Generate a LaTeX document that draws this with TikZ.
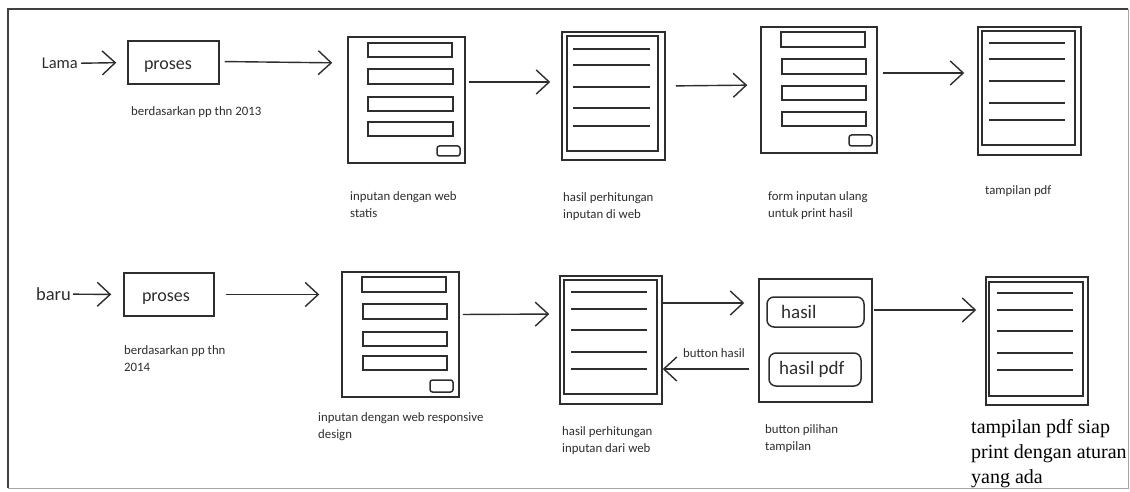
\documentclass[tikz,border=0pt]{standalone}
\usepackage{fontspec}
\setmainfont{Carlito}
\newfontfamily\seriffont{Liberation Serif}
\usetikzlibrary{arrows.meta}
\definecolor{ink}{HTML}{2E2E2E}
\tikzset{
  arr/.style={draw=ink, line width=1.4pt, -{Straight Barb[length=13pt,width=24pt,line width=1.4pt]}},
  boxshape/.style={draw=ink, line width=1.5pt, inner sep=0pt},
  fld/.style={draw=ink, line width=1.5pt},
  btn/.style={draw=ink, line width=1.5pt, rounded corners=2.5pt},
  pline/.style={draw=ink, line width=1.5pt},
  captxt/.style={font=\fontsize{12.8}{17}\selectfont, text=ink, anchor=west, align=left, inner sep=0pt},
  bigtxt/.style={font=\fontsize{18}{20}\selectfont, text=ink, inner sep=0pt},
}
\begin{document}
\begin{tikzpicture}[x=1pt,y=-1pt]
\useasboundingbox (0,0) rectangle (1130,492);
\fill[white] (0,0) rectangle (1130,492);
% frame
\draw[black!35, line width=1pt] (1128,9) -- (1128,488) -- (8,488);
\draw[black!75, line width=1.6pt] (8,488) -- (8,9) -- (1128,9);

% ===== top row =====
\node[bigtxt, font=\fontsize{16.5}{20}\selectfont, anchor=base east] (lama) at (78,68.5) {Lama};
\node[boxshape, minimum width=91pt, minimum height=43pt] (p1) at (173.5,62.5) {};
\node[bigtxt, anchor=base] (p1t) at (168,69.5) {proses};
\draw[arr, shorten >=11pt, shorten <=3pt] (lama.east) -- (p1.west);
\node[captxt] (c1) at (131,112) {berdasarkan pp thn 2013};

% form 1
\node[boxshape, minimum width=117pt, minimum height=126pt] (f1) at (406.5,100) {};
\draw[fld] (368,43) rectangle (452,57);
\draw[fld] (368,69) rectangle (453,84);
\draw[fld] (368,97) rectangle (453,111);
\draw[fld] (368,122) rectangle (453,136);
\draw[btn] (437,146) rectangle (460,156);
\node[captxt] (c2) at (350,205) {inputan dengan web\\statis};
\draw[arr, shorten <=5pt, shorten >=15pt] ([yshift=1pt]p1.east) -- ([yshift=37pt]f1.west);

% doc 1
\node[boxshape, minimum width=103pt, minimum height=128pt] (d1) at (613.5,96) {};
\draw[pline] (567,36) rectangle (658,151);
\foreach \y in {49,65,87,108,126} \draw[pline] (573,\y) -- (650,\y);
\node[captxt] (c3) at (563,207) {hasil perhitungan\\inputan di web};
\draw[arr, shorten <=3pt, shorten >=11pt] ([yshift=18pt]f1.east) -- ([yshift=14pt]d1.west);

% form 2
\node[boxshape, minimum width=116pt, minimum height=126pt] (f2) at (819,90) {};
\draw[fld] (781,32) rectangle (865,47);
\draw[fld] (782,59) rectangle (866,74);
\draw[fld] (782,86) rectangle (866,100);
\draw[fld] (782,112) rectangle (866,126);
\draw[btn] (849,135) rectangle (872,146);
\node[captxt] (c4) at (768,206) {form inputan ulang\\untuk print hasil};
\draw[arr, shorten <=10pt, shorten >=13pt] ([yshift=10pt]d1.east) -- ([yshift=5pt]f2.west);

% doc 2
\node[boxshape, minimum width=103pt, minimum height=128pt] (d2) at (1029.5,91) {};
\draw[pline] (982,31) rectangle (1075,145);
\foreach \y in {43,59,81,103,120} \draw[pline] (989,\y) -- (1065,\y);
\node[captxt] (c5) at (985,191) {tampilan pdf};
\draw[arr, shorten <=5pt, shorten >=13pt] ([yshift=17pt]f2.east) -- ([yshift=18pt]d2.west);

% ===== bottom row =====
\node[bigtxt, font=\fontsize{18.5}{20}\selectfont, anchor=base east] (baru) at (71,300.5) {baru};
\node[boxshape, minimum width=90pt, minimum height=43pt] (p2) at (169,294.5) {};
\node[bigtxt, anchor=base] (p2t) at (166,301.5) {proses};
\draw[arr, shorten >=12pt, shorten <=2pt] (baru.east) -- (p2.west);
\node[captxt] (c6) at (124,359) {berdasarkan pp thn\\2014};

% form 3
\node[boxshape, minimum width=117pt, minimum height=125pt] (f3) at (400.5,334.5) {};
\draw[fld] (362,277) rectangle (446,292);
\draw[fld] (363,304) rectangle (447,319);
\draw[fld] (363,332) rectangle (447,346);
\draw[fld] (363,356) rectangle (447,370);
\draw[btn] (430,380) rectangle (453,392);
\node[captxt] (c7) at (318,427) {inputan dengan web responsive\\design};
\draw[arr, shorten <=11pt, shorten >=22pt] (p2.east) -- ([yshift=40pt]f3.west);

% doc 3
\node[boxshape, minimum width=102pt, minimum height=128pt] (d3) at (611,340) {};
\draw[pline] (564,280) rectangle (657,394);
\foreach \y in {292,309,330,352,369} \draw[pline] (571,\y) -- (647,\y);
\node[captxt] (c8) at (562,441) {hasil perhitungan\\inputan dari web};
\draw[arr, shorten <=3pt, shorten >=10pt] ([yshift=20pt]f3.east) -- ([yshift=26pt]d3.west);

% chooser
\node[boxshape, minimum width=113pt, minimum height=123pt] (ch) at (815.5,340.5) {};
\node[draw=ink, line width=1.5pt, rounded corners=7pt, minimum width=97pt, minimum height=30pt, inner sep=0pt] (bh) at (815.5,312) {};
\node[font=\fontsize{19}{20}\selectfont, text=ink, anchor=west, inner sep=0pt] (bht) at (781,312) {hasil};
\node[draw=ink, line width=1.5pt, rounded corners=7pt, minimum width=92pt, minimum height=33pt, inner sep=0pt] (bp) at (815,369.5) {};
\node[font=\fontsize{19}{20}\selectfont, text=ink, anchor=west, inner sep=0pt] (bpt) at (779,369.5) {hasil pdf};
\node[captxt] (c9) at (765,438.5) {button pilihan\\tampilan};
\draw[arr, shorten >=14pt] ([yshift=37pt]d3.east) -- ([yshift=37.5pt]ch.west);
\draw[arr, shorten <=9pt] ([yshift=-28.5pt]ch.west) -- ([yshift=-29pt]d3.east);
\node[captxt] (lbh) at (683,353) {button hasil};

% doc 4
\node[boxshape, minimum width=102pt, minimum height=128pt] (d4) at (1037,341) {};
\draw[pline] (989,282) rectangle (1083,396);
\foreach \y in {293,310,331,353,370} \draw[pline] (997,\y) -- (1073,\y);
\node[font=\seriffont\fontsize{20}{25}\selectfont, text=black, anchor=north west, align=left, inner sep=0pt] (c10) at (971,419) {tampilan pdf siap\\print dengan aturan\\yang ada};
\draw[arr, shorten <=1pt, shorten >=9pt] ([yshift=30.5pt]ch.east) -- ([yshift=31pt]d4.west);
\end{tikzpicture}
\end{document}
